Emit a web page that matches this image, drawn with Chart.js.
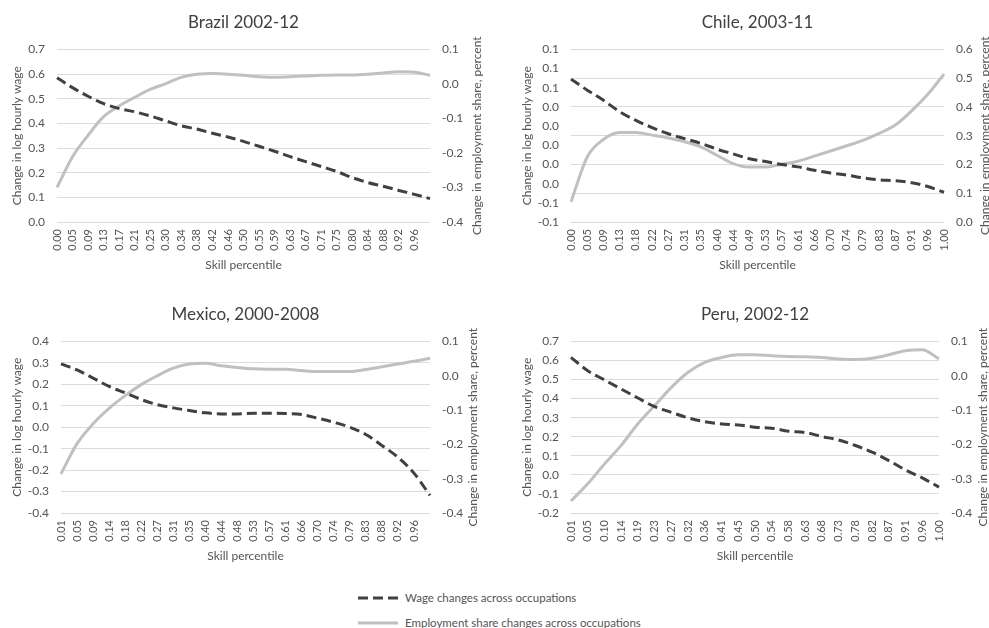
<!DOCTYPE html>
<html>
<head>
<meta charset="utf-8">
<script src="https://cdn.jsdelivr.net/npm/chart.js@4.4.0/dist/chart.umd.min.js"></script>
<style>
html, body { margin: 0; padding: 0; background: #fff; overflow: hidden; width: 989px; height: 628px; }
canvas { position: absolute; }
#legenda { position: absolute; left: 358px; top: 585px; font-family: Lato, sans-serif; font-size: 11.5px; color: #555; }
.item { display: flex; align-items: center; height: 25px; white-space: nowrap; }
.item svg { margin-right: 7px; }
</style>
</head>
<body>
<canvas id="cBrazil" width="494" height="276" style="left:0;top:0"></canvas>
<canvas id="cChile" width="505" height="276" style="left:494px;top:0"></canvas>
<canvas id="cMexico" width="494" height="277" style="left:0;top:290px"></canvas>
<canvas id="cPeru" width="495" height="277" style="left:494px;top:290px"></canvas>
<div id="legenda">
  <div class="item"><svg width="40" height="6"><line x1="0" y1="3" x2="40" y2="3" stroke="#404040" stroke-width="3" stroke-dasharray="10,5"/></svg>Wage changes across occupations</div>
  <div class="item"><svg width="40" height="6"><line x1="0" y1="3" x2="40" y2="3" stroke="#c0c0c0" stroke-width="3"/></svg>Employment share changes across occupations</div>
</div>
<script>
const brazilLabels = ['0.00','0.05','0.09','0.13','0.17','0.21','0.25','0.30','0.34','0.38','0.42','0.46','0.50','0.55','0.59','0.63','0.67','0.71','0.75','0.80','0.84','0.88','0.92','0.96',''];
const brazilWage = [0.585,0.545,0.51,0.48,0.46,0.447,0.43,0.41,0.39,0.377,0.36,0.345,0.327,0.307,0.287,0.265,0.245,0.225,0.205,0.18,0.16,0.145,0.128,0.112,0.095];
const brazilEmp = [-0.30,-0.211,-0.149,-0.095,-0.064,-0.039,-0.016,0.001,0.019,0.028,0.030,0.028,0.025,0.021,0.019,0.021,0.023,0.025,0.026,0.026,0.028,0.032,0.035,0.034,0.025];

const chileLabels = ['0.00','0.05','0.09','0.13','0.18','0.22','0.27','0.31','0.35','0.40','0.44','0.49','0.53','0.57','0.61','0.66','0.70','0.74','0.79','0.83','0.87','0.91','0.96','1.00'];
const chileWage = [0.069,0.0575,0.047,0.035,0.026,0.0185,0.012,0.007,0.002,-0.004,-0.009,-0.014,-0.017,-0.020,-0.0225,-0.026,-0.029,-0.031,-0.034,-0.036,-0.037,-0.039,-0.043,-0.049];
const chileEmp = [0.070,0.226,0.287,0.311,0.311,0.302,0.292,0.279,0.261,0.232,0.203,0.191,0.191,0.201,0.211,0.229,0.247,0.265,0.284,0.308,0.337,0.386,0.444,0.514];

const mexicoLabels = ['0.01','0.05','0.09','0.14','0.18','0.22','0.27','0.31','0.35','0.40','0.44','0.48','0.53','0.57','0.61','0.66','0.70','0.74','0.79','0.83','0.88','0.92','0.96',''];
const mexicoWage = [0.295,0.267,0.229,0.19,0.16,0.129,0.105,0.09,0.078,0.067,0.062,0.062,0.065,0.065,0.064,0.059,0.042,0.023,0.0,-0.034,-0.085,-0.14,-0.214,-0.318];
const mexicoEmp = [-0.286,-0.198,-0.14,-0.095,-0.058,-0.026,0.0,0.022,0.034,0.036,0.029,0.024,0.020,0.019,0.019,0.015,0.012,0.012,0.012,0.018,0.026,0.034,0.042,0.051];

const peruLabels = ['0.01','0.05','0.10','0.14','0.19','0.23','0.27','0.32','0.36','0.41','0.45','0.50','0.54','0.58','0.63','0.68','0.73','0.78','0.82','0.87','0.91','0.96','1.00'];
const peruWage = [0.616,0.546,0.498,0.45,0.403,0.358,0.328,0.299,0.279,0.267,0.262,0.25,0.245,0.229,0.222,0.201,0.183,0.154,0.119,0.075,0.026,-0.016,-0.064];
const peruEmp = [-0.365,-0.315,-0.257,-0.203,-0.14,-0.087,-0.034,0.010,0.039,0.053,0.061,0.061,0.058,0.056,0.055,0.053,0.049,0.047,0.051,0.061,0.073,0.076,0.049];

const textColor = '#555';
const gridColor = '#dcdcdc';
const fonte = 'Lato, sans-serif';

// right axis title reads bottom-to-top like the left one
const tituloDireita = {
    id: 'tituloDireita',
    afterDraw(chart, args, opts) {
        const s = chart.scales.y1;
        const ctx = chart.ctx;
        ctx.save();
        ctx.translate(opts.x, (s.top + s.bottom) / 2);
        ctx.rotate(-Math.PI / 2);
        ctx.font = '12px ' + fonte;
        ctx.fillStyle = textColor;
        ctx.textAlign = 'center';
        ctx.textBaseline = 'middle';
        ctx.fillText(opts.text, 0, 0);
        ctx.restore();
    }
};

function fmt(v) {
    let s = Number(v).toFixed(1);
    if (s === '-0.0') s = '0.0';
    return s;
}

function criarGrafico(id, cfg) {
    const ctx = document.getElementById(id).getContext('2d');
    return new Chart(ctx, {
        type: 'line',
        data: {
            labels: cfg.labels,
            datasets: [{
                label: 'Wage changes across occupations',
                data: cfg.wage,
                yAxisID: 'y',
                borderColor: '#404040',
                borderWidth: 3,
                borderDash: [10, 5],
                pointRadius: 0,
                cubicInterpolationMode: 'monotone'
            }, {
                label: 'Employment share changes across occupations',
                data: cfg.emp,
                yAxisID: 'y1',
                borderColor: '#c0c0c0',
                borderWidth: 3,
                pointRadius: 0,
                cubicInterpolationMode: 'monotone'
            }]
        },
        plugins: [tituloDireita],
        options: {
            responsive: false,
            animation: false,
            devicePixelRatio: 1,
            layout: { padding: 0 },
            plugins: {
                legend: { display: false },
                tooltip: { enabled: false },
                title: {
                    display: true,
                    text: cfg.title,
                    fullSize: false,
                    color: '#404040',
                    font: { family: fonte, size: 17, weight: 'normal' },
                    padding: { top: cfg.titleTop, bottom: 17 }
                },
                tituloDireita: { text: 'Change in employment share, percent', x: cfg.rightTitleX }
            },
            scales: {
                x: {
                    grid: { display: false, drawTicks: false },
                    border: { display: false },
                    ticks: {
                        autoSkip: false, minRotation: 90, maxRotation: 90, padding: 7,
                        color: textColor, font: { family: fonte, size: 11 }
                    },
                    title: {
                        display: true, text: 'Skill percentile', color: textColor,
                        font: { family: fonte, size: 12 }, padding: { top: 4, bottom: 4 }
                    },
                    afterFit: s => { s.height = cfg.xH; }
                },
                y: {
                    position: 'left',
                    min: cfg.yMin, max: cfg.yMax,
                    grid: { display: cfg.gridLeft, color: gridColor, drawTicks: false, lineWidth: 1 },
                    border: { display: false },
                    ticks: { stepSize: cfg.yStep, padding: 12, color: textColor, font: { family: fonte, size: 12 }, callback: fmt },
                    title: {
                        display: true, text: 'Change in log hourly wage', color: textColor,
                        font: { family: fonte, size: 12 }, padding: { top: cfg.leftTitlePad, bottom: 0 }
                    },
                    afterFit: s => { s.width = cfg.leftW; }
                },
                y1: {
                    position: 'right',
                    min: cfg.y1Min, max: cfg.y1Max,
                    grid: { display: !cfg.gridLeft, color: gridColor, drawTicks: false, lineWidth: 1 },
                    border: { display: false },
                    ticks: { stepSize: 0.1, padding: 12, color: textColor, font: { family: fonte, size: 12 }, callback: fmt },
                    afterFit: s => { s.width = cfg.rightW; }
                }
            }
        }
    });
}

criarGrafico('cBrazil', {
    title: 'Brazil 2002-12', labels: brazilLabels, wage: brazilWage, emp: brazilEmp,
    yMin: 0, yMax: 0.7, yStep: 0.1, y1Min: -0.4, y1Max: 0.1, gridLeft: true,
    leftW: 57, rightW: 64, xH: 54, titleTop: 12, leftTitlePad: 10, rightTitleX: 477
});
criarGrafico('cChile', {
    title: 'Chile, 2003-11', labels: chileLabels, wage: chileWage, emp: chileEmp,
    yMin: -0.08, yMax: 0.1, yStep: 0.02, y1Min: 0, y1Max: 0.6, gridLeft: false,
    leftW: 77, rightW: 55, xH: 54, titleTop: 12, leftTitlePad: 26, rightTitleX: 491
});
criarGrafico('cMexico', {
    title: 'Mexico, 2000-2008', labels: mexicoLabels, wage: mexicoWage, emp: mexicoEmp,
    yMin: -0.4, yMax: 0.4, yStep: 0.1, y1Min: -0.4, y1Max: 0.1, gridLeft: true,
    leftW: 61, rightW: 64, xH: 54, titleTop: 14, leftTitlePad: 10, rightTitleX: 473
});
criarGrafico('cPeru', {
    title: 'Peru, 2002-12', labels: peruLabels, wage: peruWage, emp: peruEmp,
    yMin: -0.2, yMax: 0.7, yStep: 0.1, y1Min: -0.4, y1Max: 0.1, gridLeft: true,
    leftW: 77, rightW: 50, xH: 54, titleTop: 14, leftTitlePad: 26, rightTitleX: 489
});
</script>
</body>
</html>
